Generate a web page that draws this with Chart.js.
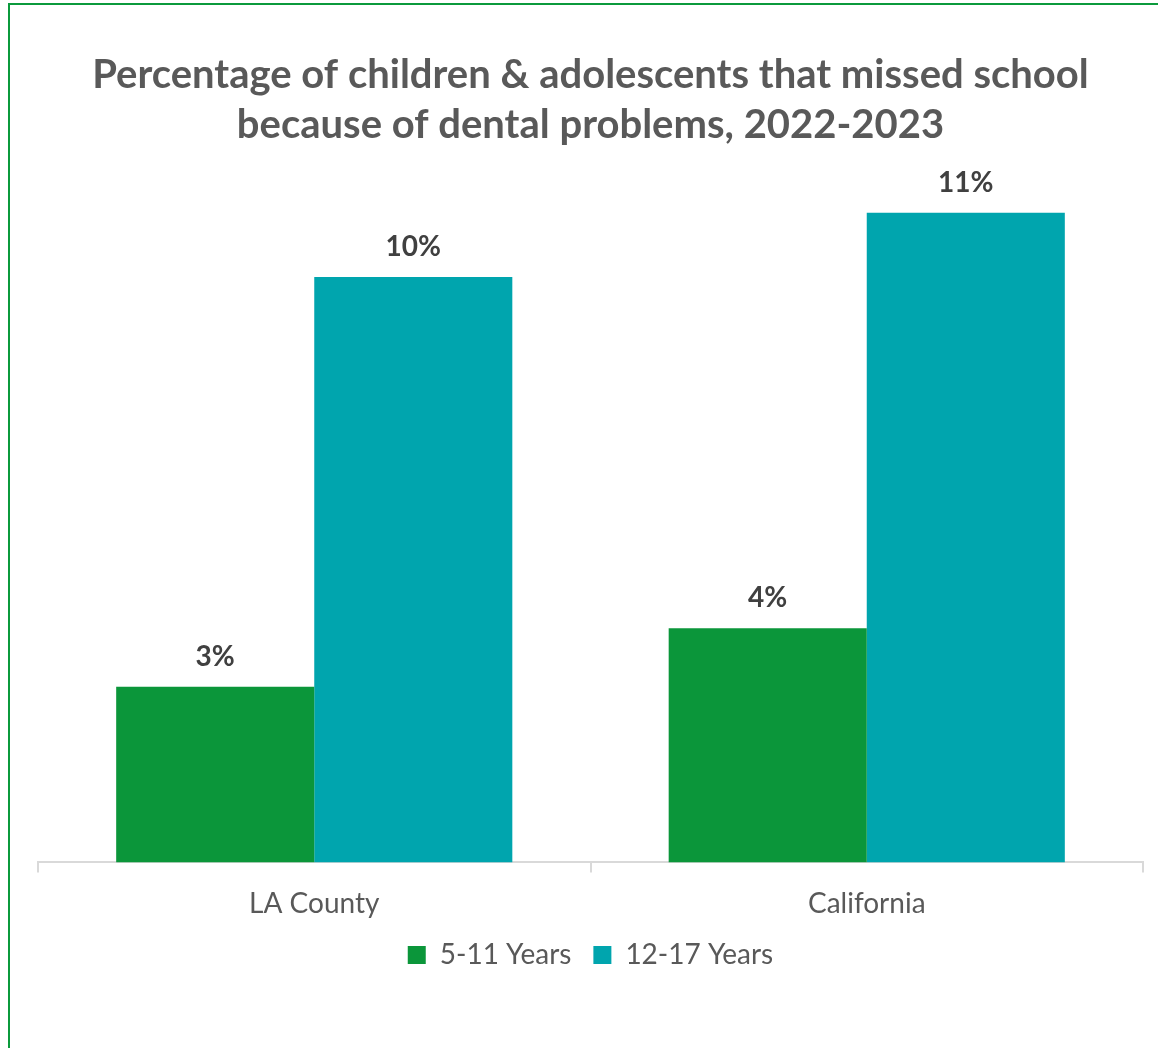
<!DOCTYPE html>
<html>
<head>
<meta charset="utf-8">
<script src="https://cdn.jsdelivr.net/npm/chart.js@4"></script>
<style>
    html, body { margin: 0; padding: 0; background: #fff; overflow: hidden; }
    .frame {
        position: absolute; left: 8px; top: 3px;
        width: 1200px; height: 1100px;
        border-left: 2px solid #0b9a3c; border-top: 2px solid #0b9a3c;
    }
    .chart-wrap { position: absolute; left: 0; top: 0; width: 1158px; height: 1048px; }
</style>
</head>
<body>
<div class="frame"></div>
<div class="chart-wrap"><canvas id="dentalChart"></canvas></div>
<script>
// Chart data
const categories = ['LA County', 'California'];
const seriesNames = ['5-11 Years', '12-17 Years'];
const ages5to11 = [3.0, 4.0];
const ages12to17 = [10.0, 11.1];
const titleLines = ['Percentage of children & adolescents that missed school', 'because of dental problems, 2022-2023'];

const FONT = 'Lato, "Open Sans", sans-serif';
const GREEN = '#0b963a';
const TEAL = '#00a5ae';

// Draws the % value above each bar
const valueLabels = {
    id: 'valueLabels',
    afterDatasetsDraw(chart) {
        const ctx = chart.ctx;
        ctx.save();
        ctx.font = 'bold 28px ' + FONT;
        ctx.fillStyle = '#404040';
        ctx.textAlign = 'center';
        ctx.textBaseline = 'middle';
        chart.data.datasets.forEach((ds, i) => {
            chart.getDatasetMeta(i).data.forEach((bar, j) => {
                ctx.fillText(Math.round(ds.data[j]) + '%', bar.x, bar.y - 30);
            });
        });
        ctx.restore();
    }
};

document.addEventListener('DOMContentLoaded', function() {
    const ctx = document.getElementById('dentalChart').getContext('2d');
    new Chart(ctx, {
        type: 'bar',
        data: {
            labels: categories,
            datasets: [{
                label: seriesNames[0],
                data: ages5to11,
                backgroundColor: GREEN,
                categoryPercentage: 0.717,
                barPercentage: 1.0
            }, {
                label: seriesNames[1],
                data: ages12to17,
                backgroundColor: TEAL,
                categoryPercentage: 0.717,
                barPercentage: 1.0
            }]
        },
        options: {
            responsive: true,
            maintainAspectRatio: false,
            animation: false,
            layout: {
                padding: { top: 20, left: 38, right: 15, bottom: 69 }
            },
            plugins: {
                title: {
                    display: true,
                    text: titleLines,
                    color: '#595959',
                    font: { family: FONT, size: 40, weight: 'bold', lineHeight: 1.25 },
                    padding: { top: 30, bottom: 10 }
                },
                legend: {
                    position: 'bottom',
                    labels: {
                        color: '#595959',
                        font: { family: FONT, size: 28 },
                        boxWidth: 18,
                        boxHeight: 18,
                        padding: 22
                    }
                },
                tooltip: { enabled: false }
            },
            scales: {
                x: {
                    grid: {
                        drawOnChartArea: false,
                        color: '#d9d9d9',
                        tickLength: 10,
                        lineWidth: 2
                    },
                    border: { color: '#d9d9d9', width: 2 },
                    ticks: {
                        color: '#595959',
                        font: { family: FONT, size: 28 },
                        padding: 15
                    },
                    // pull the legend a little closer to the axis labels
                    afterFit: function(scale) {
                        scale.height -= 17;
                    }
                },
                y: {
                    display: false,
                    min: 0,
                    max: 12
                }
            }
        },
        plugins: [valueLabels]
    });
});
</script>
</body>
</html>
